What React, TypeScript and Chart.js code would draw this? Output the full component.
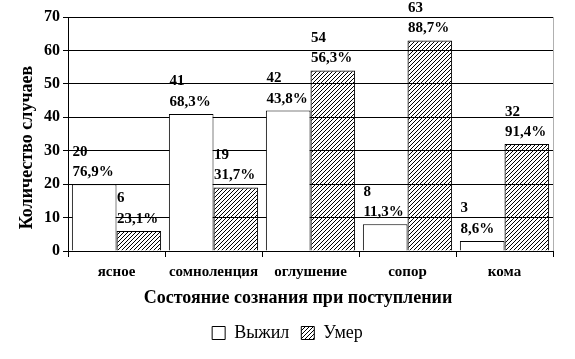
import React, { useEffect, useRef } from "react";
import { Chart, registerables } from "chart.js";

Chart.register(...registerables);

const categories = ["ясное", "сомноленция", "оглушение", "сопор", "кома"];
const survivedValues = [20, 41, 42, 8, 3];
const diedValues = [6, 19, 54, 63, 32];
const survivedPercents = ["76,9%", "68,3%", "43,8%", "11,3%", "8,6%"];
const diedPercents = ["23,1%", "31,7%", "56,3%", "88,7%", "91,4%"];
const seriesNames = ["Выжил", "Умер"];
const yTitle = "Количество случаев";
const xTitle = "Состояние сознания при поступлении";

const FONT = "'Liberation Serif', 'Times New Roman', serif";

function makeHatch(): CanvasPattern | string {
  const size = 4;
  const c = document.createElement("canvas");
  c.width = size;
  c.height = size;
  const g = c.getContext("2d");
  if (!g) return "#fff";
  g.fillStyle = "#000";
  for (let i = 0; i < size; i++) {
    g.fillRect(i, size - 1 - i, 1, 1);
  }
  const p = g.createPattern(c, "repeat");
  return p || "#fff";
}

const labelPlugin = {
  id: "barLabels",
  afterDatasetsDraw(chart: any) {
    const ctx = chart.ctx;
    const pcts = [survivedPercents, diedPercents];
    ctx.save();
    ctx.fillStyle = "#000";
    ctx.font = `bold 15px ${FONT}`;
    ctx.textAlign = "left";
    ctx.textBaseline = "alphabetic";
    chart.data.datasets.forEach((ds: any, di: number) => {
      const meta = chart.getDatasetMeta(di);
      meta.data.forEach((el: any, i: number) => {
        const left = el.x - el.width / 2 + 0.5;
        const base = el.y - 8;
        ctx.fillText(String(ds.data[i]), left, base - 20.5);
        ctx.fillText(pcts[di][i], left, base);
      });
    });
    ctx.restore();
  },
};

const framePlugin = {
  id: "frame",
  afterDraw(chart: any) {
    const { ctx, chartArea } = chart;
    ctx.save();
    ctx.strokeStyle = "#b0b0b0";
    ctx.lineWidth = 1;
    ctx.beginPath();
    const x = Math.round(chartArea.right) + 0.5;
    ctx.moveTo(x, Math.round(chartArea.top));
    ctx.lineTo(x, Math.round(chartArea.bottom));
    ctx.stroke();
    ctx.fillStyle = "#000";
    // x title
    ctx.font = `bold 18px ${FONT}`;
    ctx.textAlign = "center";
    ctx.textBaseline = "middle";
    ctx.fillText(xTitle, 298, 298);
    // y title (rotated)
    ctx.translate(27, 147.5);
    ctx.rotate(-Math.PI / 2);
    ctx.fillText(yTitle, 0, 0);
    ctx.restore();
  },
};

export default function App() {
  const ref = useRef<HTMLCanvasElement | null>(null);

  useEffect(() => {
    if (!ref.current) return;
    const hatch = makeHatch();
    const chart = new Chart(ref.current, {
      type: "bar",
      data: {
        labels: categories,
        datasets: [
          {
            label: seriesNames[0],
            data: survivedValues,
            backgroundColor: "#ffffff",
            borderColor: "#000000",
            borderWidth: 1,
            categoryPercentage: 0.92,
            barPercentage: 1,
          },
          {
            label: seriesNames[1],
            data: diedValues,
            backgroundColor: hatch as any,
            borderColor: "#000000",
            borderWidth: 1,
            categoryPercentage: 0.92,
            barPercentage: 1,
          },
        ],
      },
      options: {
        animation: false,
        responsive: false,
        devicePixelRatio: 1,
        layout: { padding: { top: 17, right: 0, bottom: 7, left: 0 } },
        plugins: {
          tooltip: { enabled: false },
          legend: {
            position: "bottom",
            labels: {
              color: "#000",
              font: { family: FONT, size: 18, weight: "normal" },
              boxWidth: 13,
              boxHeight: 13,
              padding: 12,
            },
          },
        },
        scales: {
          x: {
            grid: {
              display: true,
              drawOnChartArea: false,
              drawTicks: true,
              tickLength: 6,
              color: "#000",
              offset: true,
            },
            border: { display: true, color: "#000", width: 1 },
            ticks: {
              color: "#000",
              font: { family: FONT, size: 15, weight: "bold" },
              padding: 6,
              maxRotation: 0,
              autoSkip: false,
            },
            afterFit(scale: any) {
              scale.height = 61;
            },
          },
          y: {
            min: 0,
            max: 70,
            ticks: {
              stepSize: 10,
              color: "#000",
              font: { family: FONT, size: 16, weight: "bold" },
              padding: 3,
            },
            grid: {
              color: "#000",
              lineWidth: 1,
              drawTicks: true,
              tickLength: 5,
            },
            border: { display: true, color: "#000", width: 1 },
            afterFit(scale: any) {
              scale.width = 68;
            },
          },
          yRight: {
            position: "right",
            display: true,
            min: 0,
            max: 70,
            grid: { display: false },
            ticks: { display: false },
            border: { display: false },
            afterFit(scale: any) {
              scale.width = 22;
            },
          },
        },
      },
      plugins: [labelPlugin, framePlugin],
    });
    return () => chart.destroy();
  }, []);

  return (
    <div style={{ position: "fixed", left: 0, top: 0, width: 575, height: 359, background: "#fff" }}>
      <canvas ref={ref} width={575} height={359} style={{ width: 575, height: 359, display: "block" }} />
    </div>
  );
}
